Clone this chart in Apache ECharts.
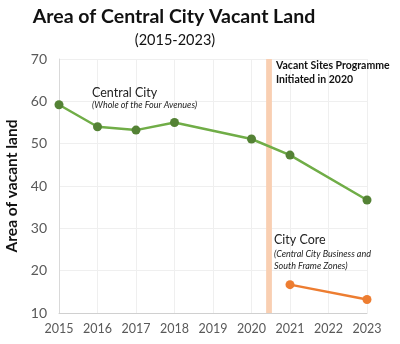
<!DOCTYPE html>
<html><head><meta charset="utf-8">
<script src="https://cdn.jsdelivr.net/npm/echarts@6/dist/echarts.min.js"></script>
<style>html,body{margin:0;padding:0;background:#fff}#c{width:400px;height:344px}</style>
</head><body><div id="c"></div>
<script>
const years = [2015, 2016, 2017, 2018, 2019, 2020, 2021, 2022, 2023];
const centralYears = [2015, 2016, 2017, 2018, 2020, 2021, 2023];
const centralValues = [59.2, 54.0, 53.2, 55.0, 51.1, 47.3, 36.7];
const coreYears = [2021, 2023];
const coreValues = [16.7, 13.2];
const yTicks = [10, 20, 30, 40, 50, 60, 70];
const programmeBand = [2020.38, 2020.53];

const F = 'Lato, "Open Sans", sans-serif';
const chart = echarts.init(document.getElementById('c'), null, {renderer: 'canvas'});
chart.setOption({
  animation: false,
  title: [
    {text: 'Area of Central City Vacant Land', left: 169, top: 2, textAlign: 'center',
     textStyle: {fontFamily: F, fontSize: 19.5, fontWeight: 'bold', color: '#111'}},
    {text: '(2015-2023)', left: 170, top: 28, textAlign: 'center',
     textStyle: {fontFamily: F, fontSize: 14.5, fontWeight: 'normal', color: '#111'}}
  ],
  grid: {left: 59, right: 33, top: 59, bottom: 31, containLabel: false, outerBoundsMode: 'none'},
  xAxis: {
    type: 'value', min: years[0], max: years[years.length - 1], interval: 1,
    axisLine: {show: true, lineStyle: {color: '#d0d0d0', width: 1}},
    axisTick: {show: false},
    splitLine: {show: true, lineStyle: {color: '#efefef'}},
    axisLabel: {formatter: v => String(v), color: '#595959', fontFamily: F, fontSize: 12.5, margin: 9}
  },
  yAxis: {
    type: 'value', min: yTicks[0], max: yTicks[yTicks.length - 1], interval: 10,
    name: 'Area of vacant land', nameLocation: 'middle', nameGap: 37,
    nameTextStyle: {fontFamily: F, fontSize: 15.5, fontWeight: 'bold', color: '#111'},
    axisLine: {show: true, lineStyle: {color: '#d9d9d9'}},
    axisTick: {show: false},
    splitLine: {show: true, lineStyle: {color: '#efefef'}},
    axisLabel: {color: '#595959', fontFamily: F, fontSize: 14, margin: 12}
  },
  series: [
    {
      type: 'line', name: 'Central City',
      data: centralYears.map((y, i) => [y, centralValues[i]]),
      lineStyle: {color: '#70ad47', width: 2.5},
      itemStyle: {color: '#548235'},
      symbol: 'circle', symbolSize: 9, z: 3,
      markArea: {
        silent: true,
        itemStyle: {color: '#f9cfb2'},
        data: [[{xAxis: programmeBand[0]}, {xAxis: programmeBand[1]}]]
      }
    },
    {
      type: 'line', name: 'City Core',
      data: coreYears.map((y, i) => [y, coreValues[i]]),
      lineStyle: {color: '#ed7d31', width: 2.5},
      itemStyle: {color: '#ed7d31'},
      symbol: 'circle', symbolSize: 9, z: 3
    }
  ],
  graphic: [
    {type: 'text', left: 276, top: 59, z: 10, style: {text: 'Vacant Sites Programme\nInitiated in 2020', fontFamily: F, fontSize: 10.5, fontWeight: 'bold', fill: '#111', lineHeight: 14}},
    {type: 'text', left: 92, top: 86, z: 10, style: {text: 'Central City', fontFamily: F, fontSize: 12.5, fill: '#222'}},
    {type: 'text', left: 92, top: 101, z: 10, style: {text: '(Whole of the Four Avenues)', fontFamily: F, fontSize: 9, fontStyle: 'italic', fill: '#222'}},
    {type: 'text', left: 274, top: 233, z: 10, style: {text: 'City Core', fontFamily: F, fontSize: 12.5, fill: '#222'}},
    {type: 'text', left: 274, top: 248, z: 10, style: {text: '(Central City Business and\nSouth Frame Zones)', fontFamily: F, fontSize: 9, fontStyle: 'italic', fill: '#222', lineHeight: 12}}
  ]
});
</script></body></html>
